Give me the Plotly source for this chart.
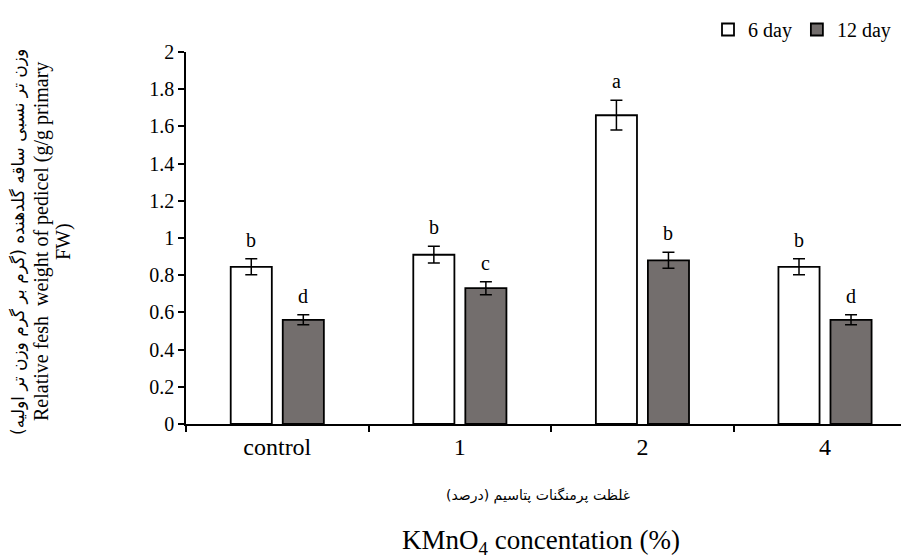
import plotly.graph_objects as go

categories = ["control", "1", "2", "4"]
day6 = [0.845, 0.91, 1.66, 0.845]
day6_err = [0.043, 0.045, 0.08, 0.043]
day12 = [0.56, 0.73, 0.88, 0.56]
day12_err = [0.027, 0.035, 0.043, 0.027]
letters6 = ["b", "b", "a", "b"]
letters12 = ["d", "c", "b", "d"]
yticks = [0, 0.2, 0.4, 0.6, 0.8, 1, 1.2, 1.4, 1.6, 1.8, 2]
ytick_labels = ["0", "0.2", "0.4", "0.6", "0.8", "1", "1.2", "1.4", "1.6", "1.8", "2"]

SERIF = "Liberation Serif"
PERS = "DejaVu Sans"

OFF = 8  # default page body margin
FW, FH = 909 - OFF, 558 - OFF
L, T = 186 - OFF, 52 - OFF
W, H = FW - L, 372


def px(xp, yp):
    """page pixel -> paper coords"""
    return (xp - OFF - L) / W, (T + H - (yp - OFF)) / H


fig = go.Figure()
err_style = dict(type="data", thickness=1.5, width=6, color="black")
fig.add_trace(go.Bar(
    name="6 day", x=categories, y=day6,
    error_y=dict(array=day6_err, **err_style),
    marker=dict(color="white", line=dict(color="black", width=1.8)),
))
fig.add_trace(go.Bar(
    name="12 day", x=categories, y=day12,
    error_y=dict(array=day12_err, **err_style),
    marker=dict(color="#736e6d", line=dict(color="black", width=1.8)),
))

annotations = []
for i, c in enumerate(categories):
    annotations.append(dict(x=i, y=day6[i] + day6_err[i], xref="x", yref="y",
                            text=letters6[i], showarrow=False, xshift=-26, yshift=6,
                            yanchor="bottom", font=dict(family=SERIF, size=20, color="black")))
    annotations.append(dict(x=i, y=day12[i] + day12_err[i], xref="x", yref="y",
                            text=letters12[i], showarrow=False, xshift=26, yshift=6,
                            yanchor="bottom", font=dict(family=SERIF, size=20, color="black")))

annotations += [
    dict(text="وزن تر نسبی ساقه گلدهنده (گرم بر گرم وزن تر اولیه)", textangle=-90,
         xref="paper", yref="paper", x=px(18, 0)[0], y=px(0, 242)[1],
         xanchor="center", yanchor="middle", showarrow=False,
         font=dict(family=PERS, size=17, color="black")),
    dict(text="Relative fesh  weight of pedicel (g/g primary", textangle=-90,
         xref="paper", yref="paper", x=px(41, 0)[0], y=px(0, 242)[1],
         xanchor="center", yanchor="middle", showarrow=False,
         font=dict(family=SERIF, size=20, color="black")),
    dict(text="FW)", textangle=-90,
         xref="paper", yref="paper", x=px(63, 0)[0], y=px(0, 242)[1],
         xanchor="center", yanchor="middle", showarrow=False,
         font=dict(family=SERIF, size=20, color="black")),
    dict(text="غلظت پرمنگنات پتاسیم (درصد)",
         xref="paper", yref="paper", x=px(538, 0)[0], y=px(0, 495)[1],
         xanchor="center", yanchor="middle", showarrow=False,
         font=dict(family=PERS, size=14, color="black")),
    dict(text="KMnO<sub>4</sub> concentation (%)",
         xref="paper", yref="paper", x=px(541, 0)[0], y=px(0, 542)[1],
         xanchor="center", yanchor="middle", showarrow=False,
         font=dict(family=SERIF, size=27, color="black")),
]

lx, ly = px(708, 10)
fig.update_layout(
    width=FW, height=FH,
    margin=dict(l=L, r=FW - L - W, t=T, b=FH - T - H, autoexpand=False),
    plot_bgcolor="white", paper_bgcolor="white",
    barmode="group", bargap=0.43, bargroupgap=0.21,
    font=dict(family=SERIF, size=20, color="black"),
    showlegend=True,
    legend=dict(orientation="h", x=lx, xanchor="left", y=ly, yanchor="top",
                font=dict(family=SERIF, size=20, color="black"),
                itemwidth=30, tracegroupgap=0, bgcolor="rgba(0,0,0,0)"),
    annotations=annotations,
)
fig.update_xaxes(
    type="category", range=[-0.5, 3.46],
    showline=True, linecolor="black", linewidth=1.5,
    ticks="outside", tickson="boundaries", ticklen=6, tickwidth=1.5, tickcolor="black",
    showgrid=False, tickfont=dict(family=SERIF, size=24, color="black"),
)
fig.update_yaxes(
    range=[0, 2], tickvals=yticks, ticktext=ytick_labels,
    showline=True, linecolor="black", linewidth=1.5,
    ticks="outside", ticklen=6, tickwidth=1.5, tickcolor="black",
    showgrid=False, zeroline=False, tickfont=dict(family=SERIF, size=20, color="black"),
)

fig.write_html("out.html")
